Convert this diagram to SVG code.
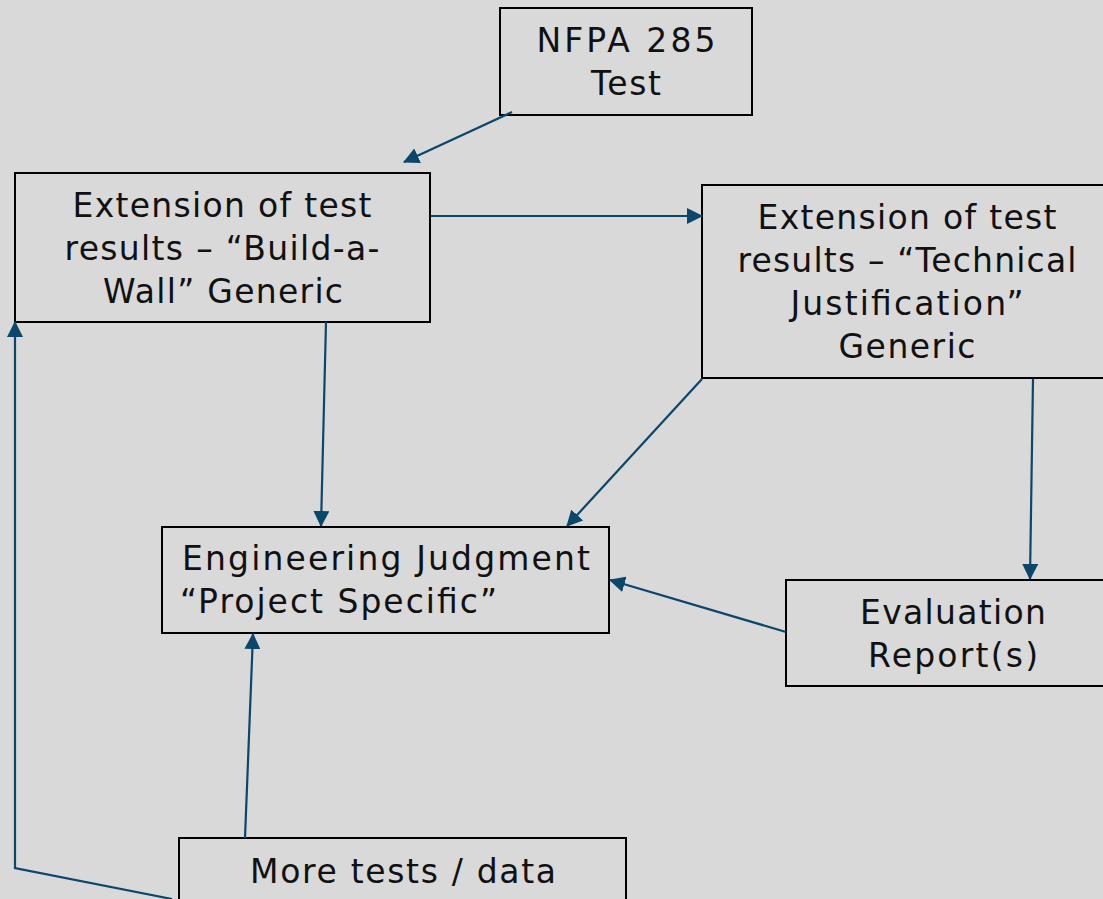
<svg xmlns="http://www.w3.org/2000/svg" width="1103" height="899" viewBox="0 0 1103 899">
<defs>
<style>
.box{fill:#d9d9d9;stroke:#000;stroke-width:2}
.t{font-family:"DejaVu Sans","Liberation Sans",sans-serif;font-size:33px;fill:#111;text-anchor:middle}
.c{fill:none;stroke:#0b466b;stroke-width:2.2}
</style>
<marker id="a" viewBox="0 0 16 16" refX="15" refY="8" markerWidth="16" markerHeight="16" markerUnits="userSpaceOnUse" orient="auto">
<path d="M0,0 L16,8 L0,16 z" fill="#0b466b"/>
</marker>
</defs>
<rect width="1103" height="899" fill="#d9d9d9"/>
<g id="nfpa"><rect class="box" x="500" y="8" width="252" height="107"/>
<text class="t" x="626" y="52" textLength="179" lengthAdjust="spacing">NFPA 285</text><text class="t" x="626" y="95" textLength="70" lengthAdjust="spacing">Test</text></g>
<g id="bw"><rect class="box" x="15" y="173" width="415" height="149"/>
<text class="t" x="222" y="217" textLength="299" lengthAdjust="spacing">Extension of test</text><text class="t" x="222" y="260" textLength="315" lengthAdjust="spacing">results – “Build-a-</text><text class="t" x="223" y="303" textLength="240" lengthAdjust="spacing">Wall” Generic</text></g>
<g id="tj"><rect class="box" x="702" y="185" width="410" height="193"/>
<text class="t" x="907" y="229" textLength="299" lengthAdjust="spacing">Extension of test</text><text class="t" x="907" y="272" textLength="339" lengthAdjust="spacing">results – “Technical</text><text class="t" x="907" y="315" textLength="233" lengthAdjust="spacing">Justification”</text><text class="t" x="907" y="358" textLength="137" lengthAdjust="spacing">Generic</text></g>
<g id="ej"><rect class="box" x="162" y="527" width="447" height="106"/>
<text class="t" x="182" y="570" style="text-anchor:start" textLength="408" lengthAdjust="spacing">Engineering Judgment</text><text class="t" x="180" y="613" style="text-anchor:start" textLength="317" lengthAdjust="spacing">“Project Specific”</text></g>
<g id="er"><rect class="box" x="786" y="580" width="330" height="106"/>
<text class="t" x="953" y="624" textLength="186" lengthAdjust="spacing">Evaluation</text><text class="t" x="953" y="667" textLength="170" lengthAdjust="spacing">Report(s)</text></g>
<g id="mt"><rect class="box" x="179" y="838" width="447" height="80"/>
<text class="t" x="403" y="883" textLength="306" lengthAdjust="spacing">More tests / data</text></g>
<g id="connectors">
<path class="c" d="M512,112 L404,162" marker-end="url(#a)"/>
<path class="c" d="M431,216 L702,216" marker-end="url(#a)"/>
<path class="c" d="M326,322 L321,526" marker-end="url(#a)"/>
<path class="c" d="M702,379 L567,526" marker-end="url(#a)"/>
<path class="c" d="M1033,379 L1030,579" marker-end="url(#a)"/>
<path class="c" d="M786,632 L610,580" marker-end="url(#a)"/>
<path class="c" d="M245,838 L253,634" marker-end="url(#a)"/>
<path class="c" d="M172,899 L15,868 L15,322" marker-end="url(#a)"/>
</g>
</svg>
